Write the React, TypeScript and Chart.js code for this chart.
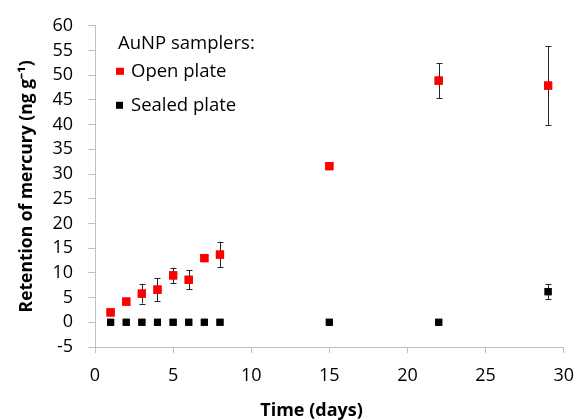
import React, { useEffect, useRef } from "react";
import { Chart, registerables } from "chart.js";

Chart.register(...registerables);

const openDays = [1, 2, 3, 4, 5, 6, 7, 8, 15, 22, 29];
const openValues = [2.0, 4.2, 5.8, 6.6, 9.5, 8.6, 13.0, 13.7, 31.6, 48.9, 47.9];
const openErrors = [0, 0, 2.0, 2.3, 1.55, 1.9, 0, 2.6, 0, 3.55, 7.95];

const sealedDays = [1, 2, 3, 4, 5, 6, 7, 8, 15, 22, 29];
const sealedValues = [0, 0, 0, 0, 0, 0, 0, 0, 0, 0, 6.2];
const sealedErrors = [0, 0, 0, 0, 0, 0, 0, 0, 0, 0, 1.5];

const legendTitle = "AuNP samplers:";
const openLabel = "Open plate";
const sealedLabel = "Sealed plate";
const xTitle = "Time (days)";
const yTitle = "Retention of mercury (ng g\u207B\u00B9)";

const FONT = "'Open Sans', sans-serif";

const errorBarPlugin = {
  id: "errorBars",
  afterDatasetsDraw(chart: any) {
    const ctx = chart.ctx;
    const xs = chart.scales.x;
    const ys = chart.scales.y;
    ctx.save();
    ctx.strokeStyle = "#262626";
    ctx.lineWidth = 1;
    chart.data.datasets.forEach((ds: any) => {
      const errs = ds.errors as number[];
      ds.data.forEach((p: any, i: number) => {
        const e = errs[i];
        if (!e) return;
        const px = Math.round(xs.getPixelForValue(p.x)) + 0.5;
        const top = ys.getPixelForValue(p.y + e);
        const bot = ys.getPixelForValue(p.y - e);
        ctx.beginPath();
        ctx.moveTo(px, top);
        ctx.lineTo(px, bot);
        ctx.moveTo(px - 3, Math.round(top) + 0.5);
        ctx.lineTo(px + 3, Math.round(top) + 0.5);
        ctx.moveTo(px - 3, Math.round(bot) + 0.5);
        ctx.lineTo(px + 3, Math.round(bot) + 0.5);
        ctx.stroke();
      });
    });
    ctx.restore();
    chart.data.datasets.forEach((ds: any, di: number) => {
      const meta = chart.getDatasetMeta(di);
      meta.data.forEach((el: any) => el.draw(ctx, chart.chartArea));
    });
  },
};

const legendPlugin = {
  id: "customLegend",
  afterDraw(chart: any) {
    const ctx = chart.ctx;
    const a = chart.chartArea;
    ctx.save();
    ctx.font = `18.5px ${FONT}`;
    ctx.fillStyle = "#000";
    ctx.textBaseline = "middle";
    ctx.textAlign = "left";
    ctx.fillText(legendTitle, a.left + 23, a.top + 18);
    ctx.fillStyle = "#ff0000";
    ctx.fillRect(a.left + 21, a.top + 42, 8, 7);
    ctx.fillStyle = "#000";
    ctx.fillText(openLabel, a.left + 36, a.top + 46);
    ctx.fillRect(a.left + 21, a.top + 76, 7, 7);
    ctx.fillText(sealedLabel, a.left + 36, a.top + 80);
    ctx.font = `bold 18px ${FONT}`;
    ctx.textAlign = "center";
    ctx.fillText(xTitle, a.left + (a.right - a.left) * 0.462, 411);
    ctx.restore();
  },
};

export default function App() {
  const ref = useRef<HTMLCanvasElement>(null);
  useEffect(() => {
    document.body.style.margin = "0";
    const chart = new Chart(ref.current!, {
      type: "scatter",
      data: {
        datasets: [
          {
            label: openLabel,
            data: openDays.map((d, i) => ({ x: d, y: openValues[i] })),
            errors: openErrors,
            backgroundColor: "#ff0000",
            borderColor: "#ff0000",
            borderWidth: 0,
            pointStyle: "rect",
            pointRadius: 5.8,
          } as any,
          {
            label: sealedLabel,
            data: sealedDays.map((d, i) => ({ x: d, y: sealedValues[i] })),
            errors: sealedErrors,
            backgroundColor: "#000000",
            borderColor: "#000000",
            borderWidth: 0,
            pointStyle: "rect",
            pointRadius: 5.0,
          } as any,
        ],
      },
      options: {
        animation: false,
        responsive: false,
        devicePixelRatio: 1,
        layout: { padding: { top: 19, right: 16, left: 0, bottom: 0 } },
        plugins: { legend: { display: false }, tooltip: { enabled: false } },
        scales: {
          x: {
            type: "linear",
            min: 0,
            max: 30,
            afterFit: (s: any) => {
              s.height = 73;
            },
            ticks: {
              stepSize: 5,
              color: "#000",
              font: { family: FONT, size: 18 },
              padding: 12,
            },
            grid: {
              drawOnChartArea: false,
              drawTicks: true,
              tickLength: 6,
              color: "#bfbfbf",
            },
            border: { color: "#bfbfbf", width: 1 },
          },
          y: {
            type: "linear",
            min: -5,
            max: 60,
            afterFit: (s: any) => {
              s.width = 95;
            },
            ticks: {
              stepSize: 5,
              color: "#000",
              font: { family: FONT, size: 18 },
              padding: 15,
            },
            grid: {
              drawOnChartArea: false,
              drawTicks: true,
              tickLength: 7,
              color: "#bfbfbf",
            },
            border: { color: "#bfbfbf", width: 1 },
            title: {
              display: true,
              text: yTitle,
              color: "#000",
              font: { family: FONT, size: 17.5, weight: "bold" },
              padding: { top: 17, bottom: 0 },
            },
          },
        },
      } as any,
      plugins: [errorBarPlugin, legendPlugin],
    });
    return () => chart.destroy();
  }, []);
  return (
    <div style={{ position: "absolute", left: 0, top: 0, width: 586, height: 420 }}>
      <canvas ref={ref} width={586} height={420} />
    </div>
  );
}
